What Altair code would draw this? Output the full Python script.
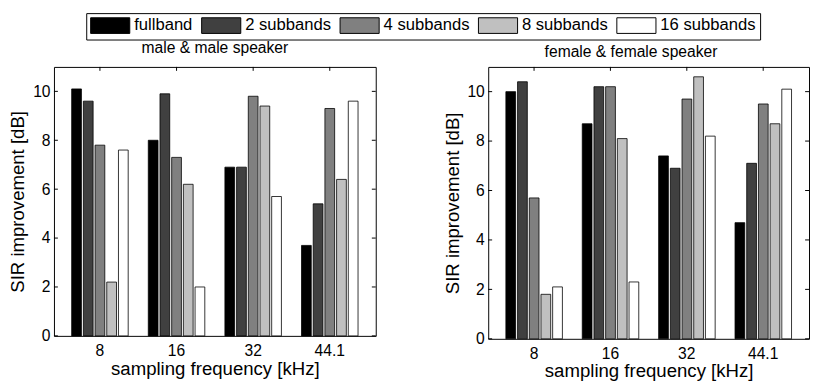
import altair as alt
import pandas as pd

freqs = ["8", "16", "32", "44.1"]
series = ["fullband", "2 subbands", "4 subbands", "8 subbands", "16 subbands"]
colors = ["#000000", "#404040", "#808080", "#c0c0c0", "#ffffff"]

male_fullband = [10.1, 8.0, 6.9, 3.7]
male_2sub = [9.6, 9.9, 6.9, 5.4]
male_4sub = [7.8, 7.3, 9.8, 9.3]
male_8sub = [2.2, 6.2, 9.4, 6.4]
male_16sub = [7.6, 2.0, 5.7, 9.6]

female_fullband = [10.0, 8.7, 7.4, 4.7]
female_2sub = [10.4, 10.2, 6.9, 7.1]
female_4sub = [5.7, 10.2, 9.7, 9.5]
female_8sub = [1.8, 8.1, 10.6, 8.7]
female_16sub = [2.1, 2.3, 8.2, 10.1]

yticks = [0, 2, 4, 6, 8, 10]

FONT = "Liberation Sans"


def long_df(cols):
    rows = []
    for s, vals in zip(series, cols):
        for f, v in zip(freqs, vals):
            rows.append({"freq": f, "series": s, "value": v})
    return pd.DataFrame(rows)


male_df = long_df([male_fullband, male_2sub, male_4sub, male_8sub, male_16sub])
female_df = long_df([female_fullband, female_2sub, female_4sub, female_8sub, female_16sub])
ytick_df = pd.DataFrame({"value": yticks})
xtick_df = pd.DataFrame({"freq": freqs})


def panel(df, title, w, h, tdx, toffset):
    xscale = alt.Scale(domain=freqs, paddingInner=0.237, paddingOuter=0.2185)
    yscale = alt.Scale(domain=[0, 11], nice=False)
    bars = alt.Chart(df).mark_bar(stroke="black", strokeWidth=0.8).encode(
        x=alt.X("freq:N", sort=freqs, scale=xscale,
                axis=alt.Axis(title="sampling frequency [kHz]", labelAngle=0, ticks=False,
                              domain=False, labelPadding=7, titlePadding=1,
                              labelFontSize=16, titleFontSize=19, labelFont=FONT,
                              titleFont=FONT, titleFontWeight="normal",
                              labelColor="black", titleColor="black")),
        xOffset=alt.XOffset("series:N", sort=series,
                            scale=alt.Scale(domain=series, paddingInner=0.167, paddingOuter=0.083)),
        y=alt.Y("value:Q", scale=yscale,
                axis=alt.Axis(title="SIR improvement [dB]", values=yticks, grid=False, ticks=False,
                              domain=False, labelPadding=4, titlePadding=5,
                              labelFontSize=16, titleFontSize=19, labelFont=FONT,
                              titleFont=FONT, titleFontWeight="normal",
                              labelColor="black", titleColor="black")),
        color=alt.Color("series:N", sort=series,
                        scale=alt.Scale(domain=series, range=colors),
                        legend=alt.Legend(title=None)),
    )
    lt = alt.Chart(ytick_df).mark_rule(color="black", strokeWidth=1).encode(
        y=alt.Y("value:Q"), x=alt.value(0), x2=alt.value(4))
    rt = alt.Chart(ytick_df).mark_rule(color="black", strokeWidth=1).encode(
        y=alt.Y("value:Q"), x=alt.value(w - 4), x2=alt.value(w))
    tt = alt.Chart(xtick_df).mark_rule(color="black", strokeWidth=1).encode(
        x=alt.X("freq:N", sort=freqs), y=alt.value(0), y2=alt.value(4))
    return alt.layer(bars, lt, rt, tt).properties(
        width=w, height=h,
        title=alt.TitleParams(title, fontSize=16, font=FONT, fontWeight="normal",
                              color="black", anchor="middle", dx=tdx, offset=toffset),
    )


left = panel(male_df, "male & male speaker", 329, 275, 0, 11)
right = panel(female_df, "female & female speaker", 328, 278, -18, 7)

chart = alt.hconcat(left, right, spacing=67).properties(
    padding={"left": 0, "top": 0, "right": 0, "bottom": 0}
).configure_view(stroke="black", strokeWidth=1).configure_legend(
    orient="none", legendX=33, legendY=-55, direction="horizontal", columns=5,
    strokeColor="black", strokeWidth=1, fillColor="white", padding=4,
    symbolType="M-1,-1H4V1H-1Z", symbolSize=256, symbolStrokeColor="black",
    symbolStrokeWidth=1, symbolOpacity=1, labelFontSize=17, labelFont=FONT,
    labelColor="black", labelOffset=28, columnPadding=6.5, rowPadding=0
)

chart.save("out.html", embed_options={"renderer": "svg", "actions": False})
